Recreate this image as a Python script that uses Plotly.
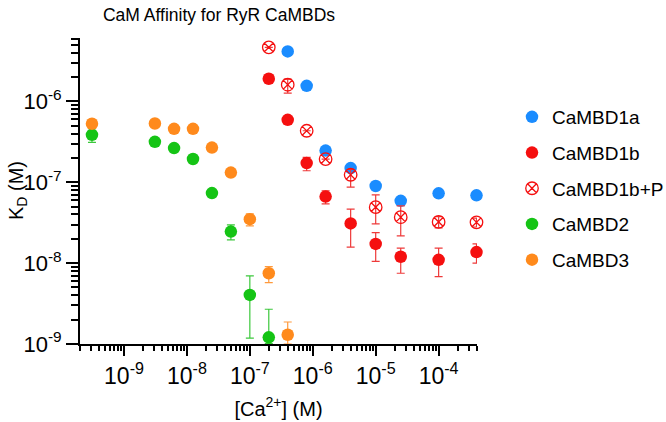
import plotly.graph_objects as go

# ---------------- data ----------------
ca_1a = [4e-7, 8e-7, 1.6e-6, 4e-6, 1e-5, 2.5e-5, 1e-4, 4e-4]
kd_1a = [4.16e-6, 1.56e-6, 2.47e-7, 1.50e-7, 9.0e-8, 5.9e-8, 7.3e-8, 6.9e-8]

ca_1b = [2e-7, 4e-7, 8e-7, 1.6e-6, 4e-6, 1e-5, 2.5e-5, 1e-4, 4e-4]
kd_1b = [1.91e-6, 5.93e-7, 1.73e-7, 6.66e-8, 3.10e-8, 1.73e-8, 1.2e-8, 1.1e-8, 1.37e-8]
err_1b_plus = [0, 0, 3.0e-8, 1.18e-8, 1.55e-8, 6.6e-9, 3.3e-9, 4.3e-9, 3.6e-9]
err_1b_minus = [0, 0, 3.4e-8, 1.25e-8, 1.52e-8, 6.8e-9, 4.5e-9, 4.2e-9, 3.7e-9]

ca_1bp = [2e-7, 4e-7, 8e-7, 1.6e-6, 4e-6, 1e-5, 2.5e-5, 1e-4, 4e-4]
kd_1bp = [4.67e-6, 1.61e-6, 4.34e-7, 1.94e-7, 1.24e-7, 4.93e-8, 3.7e-8, 3.24e-8, 3.2e-8]
err_1bp_plus = [0, 2.8e-7, 0, 0, 2.0e-8, 2.07e-8, 1.4e-8, 5.3e-9, 4e-9]
err_1bp_minus = [0, 3.4e-7, 0, 0, 3.7e-8, 1.87e-8, 1.53e-8, 5.1e-9, 4e-9]

ca_2 = [3.1e-10, 3.1e-9, 6.25e-9, 1.25e-8, 2.5e-8, 5e-8, 1e-7, 2e-7]
kd_2 = [3.87e-7, 3.17e-7, 2.65e-7, 1.94e-7, 7.35e-8, 2.46e-8, 4.05e-9, 1.21e-9]
err_2_plus = [7.5e-8, 3e-8, 0, 0, 7e-9, 5.1e-9, 2.9e-9, 1.48e-9]
err_2_minus = [7.5e-8, 3e-8, 0, 0, 7e-9, 5.2e-9, 2.87e-9, 0.2e-9]

ca_3 = [3.1e-10, 3.1e-9, 6.25e-9, 1.25e-8, 2.5e-8, 5e-8, 1e-7, 2e-7, 4e-7]
kd_3 = [5.3e-7, 5.34e-7, 4.59e-7, 4.59e-7, 2.69e-7, 1.32e-7, 3.5e-8, 7.5e-9, 1.3e-9]
err_3_plus = [0, 0, 0, 0, 0, 5e-9, 5.7e-9, 1.55e-9, 5.7e-10]
err_3_minus = [0, 0, 0, 0, 0, 5e-9, 6.1e-9, 1.77e-9, 3e-10]

x_tickvals = [1e-9, 1e-8, 1e-7, 1e-6, 1e-5, 1e-4]
x_ticktext = ["10<sup>-9</sup>", "10<sup>-8</sup>", "10<sup>-7</sup>",
              "10<sup>-6</sup>", "10<sup>-5</sup>", "10<sup>-4</sup>"]
y_tickvals = [1e-9, 1e-8, 1e-7, 1e-6]
y_ticktext = ["10<sup>-9</sup>", "10<sup>-8</sup>", "10<sup>-7</sup>", "10<sup>-6</sup>"]

# ---------------- styling ----------------
FONT = "Liberation Sans, Arial, Helvetica, sans-serif"
BLUE = "#1A8CFF"
RED = "#F50F0F"
GREEN = "#15C415"
ORANGE = "#FF8A1C"

x_minor = [m * 10.0 ** e for e in range(-10, -3) for m in range(2, 10)
           if 2e-10 <= m * 10.0 ** e <= 4.05e-4]
y_minor = [m * 10.0 ** e for e in range(-9, -5) for m in range(2, 10)
           if m * 10.0 ** e <= 6.1e-6]

fig = go.Figure()

def add(name, x, y, color, errp=None, errm=None, errcolor=None, symbol="circle", group="g"):
    marker = dict(size=12.5, color=color, line=dict(width=0))
    if symbol == "circle-x-open":
        marker = dict(size=12.5, color=color, symbol="circle-x-open", line=dict(width=1.3, color=color))
    kw = {}
    if errp is not None:
        kw["error_y"] = dict(type="data", array=errp, arrayminus=errm, symmetric=False,
                             color=errcolor, thickness=1.2, width=4)
    fig.add_trace(go.Scatter(x=x, y=y, mode="markers", name=name, marker=marker,
                             cliponaxis=False, legendgroup=group, **kw))

add("CaMBD1a", ca_1a, kd_1a, BLUE, group="a")
add("CaMBD1b", ca_1b, kd_1b, RED, err_1b_plus, err_1b_minus, "#EE3A3A", group="b")
add("CaMBD1b+P", ca_1bp, kd_1bp, RED, err_1bp_plus, err_1bp_minus, "#EE3A3A",
    symbol="circle-x-open", group="c")
add("CaMBD2", ca_2, kd_2, GREEN, err_2_plus, err_2_minus, "#3CC83C", group="d")
add("CaMBD3", ca_3, kd_3, ORANGE, err_3_plus, err_3_minus, "#FF9A3C", group="e")

PL, PR, PT, PB = 80, 477, 38, 344  # plot-area pixel box
PW, PH = PR - PL, PB - PT

fig.update_layout(
    width=666, height=422,
    margin=dict(l=PL, r=666 - PR, t=PT, b=422 - PB, autoexpand=False),
    paper_bgcolor="white", plot_bgcolor="white",
    font=dict(family=FONT, color="black"),
    title=dict(text="CaM Affinity for RyR CaMBDs", font=dict(size=17.5, color="black"),
               x=219 / 666, xref="container", xanchor="center",
               y=1 - 15 / 422, yref="container", yanchor="middle"),
    legend=dict(x=(512 - PL) / PW, xanchor="left", y=(PB - 98) / PH, yanchor="top",
                font=dict(size=19), tracegroupgap=8, bgcolor="rgba(0,0,0,0)"),
    xaxis=dict(type="log", range=[-9.699, -3.39], tickmode="array", automargin=False,
               tickvals=x_tickvals, ticktext=x_ticktext, tickfont=dict(size=23),
               ticks="outside", ticklen=10, tickwidth=2, tickcolor="black",
               showline=True, linewidth=2, linecolor="black",
               showgrid=False, zeroline=False,
               minor=dict(tickmode="array", tickvals=x_minor, ticks="outside",
                          ticklen=5, tickwidth=1.5, tickcolor="black", showgrid=False),
               title=dict(text="[Ca<sup>2+</sup>] (M)", font=dict(size=20), standoff=14)),
    yaxis=dict(type="log", range=[-9, -5.215], tickmode="array", automargin=False,
               tickvals=y_tickvals, ticktext=y_ticktext, tickfont=dict(size=22),
               ticks="outside", ticklen=12, tickwidth=2, tickcolor="black",
               showline=True, linewidth=2, linecolor="black",
               showgrid=False, zeroline=False,
               minor=dict(tickmode="array", tickvals=y_minor, ticks="outside",
                          ticklen=7, tickwidth=1.5, tickcolor="black", showgrid=False)),
    annotations=[dict(text="K<sub>D</sub> (M)", textangle=-90, font=dict(size=20),
                      xref="paper", yref="paper", x=(17 - PL) / PW, y=0.5,
                      xanchor="center", yanchor="middle", showarrow=False)],
)

fig.write_html("out.html", config={"displayModeBar": False},
               post_script="document.body.style.margin='0';document.body.style.padding='0';")
